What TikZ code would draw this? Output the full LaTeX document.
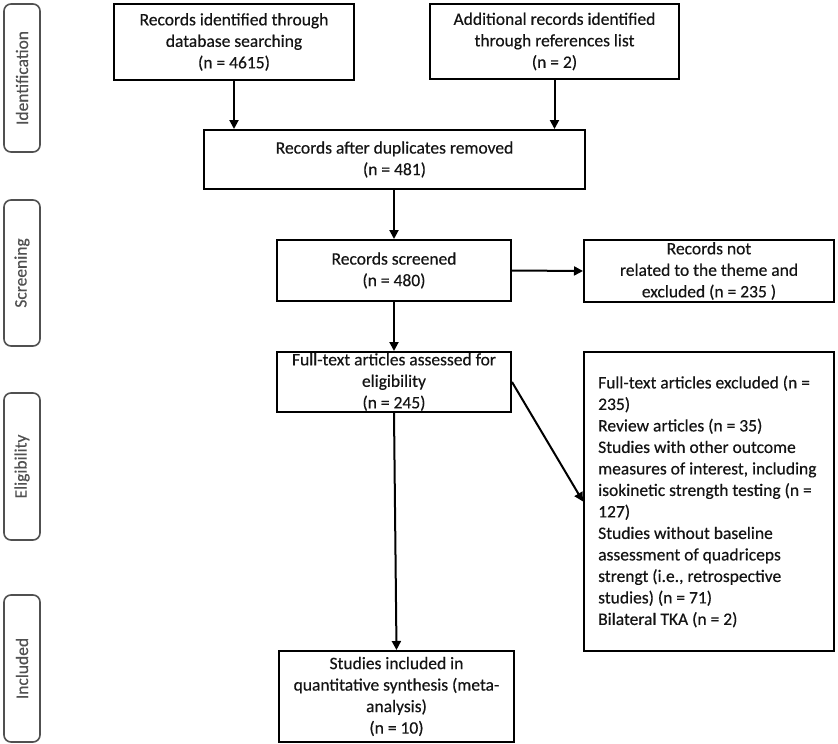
\documentclass[tikz,border=0pt]{standalone}
\usepackage{fontspec}
\setmainfont{Carlito}[FakeBold=0.4]
\usetikzlibrary{arrows.meta}
\definecolor{txt}{RGB}{20,20,20}
\definecolor{side}{RGB}{80,80,80}
\begin{document}
\begin{tikzpicture}[x=1pt,y=-1pt,
  every node/.style={text=txt,font=\fontsize{17.5}{21.5}\selectfont},
  box/.style={draw=black,line width=2pt,inner sep=0pt,anchor=center,align=center},
  sidebox/.style={draw=side,line width=1.6pt,rounded corners=7pt,inner sep=0pt,
    minimum width=36pt,anchor=center},
  arr/.style={line width=2pt,-{Triangle[length=9pt,width=9pt]}}
]
\useasboundingbox (0,0) rectangle (838,744);
% side labels
\node[sidebox,minimum height=148pt] (sid) at (22,78) {};
\node[rotate=90,text=side] (sidt) at (sid.center) {Identification};
\node[sidebox,minimum height=146pt] (sscr) at (22,273) {};
\node[rotate=90,text=side] (sscrt) at (sscr.center) {Screening};
\node[sidebox,minimum height=147pt] (selg) at (22,466.5) {};
\node[rotate=90,text=side] (selgt) at (selg.center) {Eligibility};
\node[sidebox,minimum height=147pt] (sinc) at (22,668.5) {};
\node[rotate=90,text=side] (sinct) at (sinc.center) {Included};
% boxes
\node[box,minimum width=240pt,minimum height=76pt] (b1) at (234,42)
  {Records identified through\\database searching\\(n = 4615)};
\node[box,minimum width=249pt,minimum height=75pt] (b2) at (554.5,41.5)
  {Additional records identified\\through references list\\(n = 2)};
\node[box,minimum width=381pt,minimum height=59pt] (b3) at (394.5,159.5)
  {Records after duplicates removed\\(n = 481)};
\node[box,minimum width=234pt,minimum height=61pt] (b4) at (394,270.5)
  {Records screened\\(n = 480)};
\node[box,minimum width=250pt,minimum height=62pt] (ex1) at (709,271)
  {Records not\\related to the theme and\\excluded (n = 235 )};
\node[box,minimum width=234pt,minimum height=60pt] (b5) at (394,382)
  {Full-text articles assessed for\\eligibility\\(n = 245)};
\node[box,minimum width=250pt,minimum height=299pt] (ex2) at (709,501.5) {};
\node[align=left,anchor=west,inner sep=0pt] (ex2t) at (598,501.5)
  {Full-text articles excluded (n =\\235)\\Review articles (n = 35)\\Studies with other outcome\\measures of interest, including\\isokinetic strength testing (n =\\127)\\Studies without baseline\\assessment of quadriceps\\strengt (i.e., retrospective\\studies) (n = 71)\\Bilateral TKA (n = 2)};
\node[box,minimum width=235pt,minimum height=91pt] (b6) at (396.5,696.5)
  {Studies included in\\quantitative synthesis (meta-\\analysis)\\(n = 10)};
% connectors
\draw[arr] (b1.south) -- (b1.south |- b3.north);
\draw[arr] (b2.south) -- (b2.south |- b3.north);
\draw[arr] (b3.south -| b4.north) -- (b4.north);
\draw[arr] (b4.east) -- (ex1.west);
\draw[arr] (b4.south) -- (b5.north);
\draw[arr] (b5.east) -- (ex2.west);
\draw[arr] (b5.south) -- (b6.north);
\end{tikzpicture}
\end{document}
